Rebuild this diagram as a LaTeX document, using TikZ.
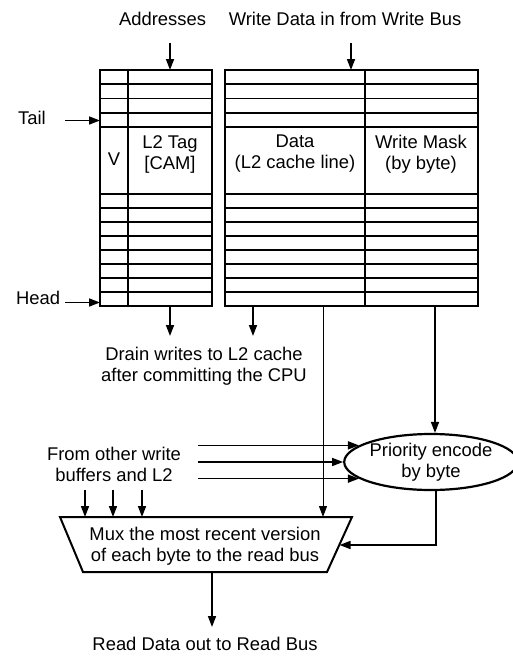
\documentclass[tikz,border=0pt]{standalone}
\usepackage{fontspec}
\setmainfont{Liberation Sans}
\usetikzlibrary{arrows.meta,shapes.geometric}
\begin{document}
\begin{tikzpicture}[x=1pt,y=-1pt,
  font=\fontsize{18.4}{21}\selectfont,
  arr/.style={line width=1.6pt,-{Triangle[length=11pt,width=8pt]}},
  thinarr/.style={line width=1pt,-{Triangle[length=11pt,width=8pt]}},
  frame/.style={line width=2.4pt},
  rowline/.style={line width=1.8pt},
  lbl/.style={align=center,inner sep=0pt}]
\useasboundingbox (0,0) rectangle (512,656);

% left block (V + L2 Tag)
\foreach \y in {84.25,98.5,112.75,127,194,208,222,236,250,264,278,292}
  \draw[rowline] (100,\y) -- (212,\y);
\draw[frame] (100,70) rectangle (212,306);
\draw[frame] (128,70) -- (128,306);
% right block (Data + Write Mask)
\foreach \y in {84.25,98.5,112.75,127,194,208,222,236,250,264,278,292}
  \draw[rowline] (225,\y) -- (478,\y);
\draw[frame] (225,70) rectangle (478,306);
\draw[frame] (365,70) -- (365,306);

% labels inside blocks
\node[lbl] (v) at (114,159) {V};
\node[lbl] (tag) at (170,154) {L2 Tag\\{[CAM]}};
\node[lbl] (data) at (295,154) {Data\\(L2 cache line)};
\node[lbl] (mask) at (421,154) {Write Mask\\(by byte)};

% top inputs
\node[lbl] (addr) at (162.5,19) {Addresses};
\node[lbl] (wdata) at (345,19) {Write Data in from Write Bus};
\coordinate (addrIn) at (170,43);
\coordinate (addrTop) at (170,70);
\coordinate (wdIn) at (351,43);
\coordinate (wdTop) at (351,70);
\draw[arr] (addrIn) -- (addrTop);
\draw[arr] (wdIn) -- (wdTop);

% tail / head
\node[lbl] (tail) at (32,118) {Tail};
\node[lbl] (head) at (38,298) {Head};
\coordinate (tailS) at (65,120.5);
\coordinate (tailE) at (100,120.5);
\coordinate (headS) at (65,302.5);
\coordinate (headE) at (100,302.5);
\draw[arr] (tailS) -- (tailE);
\draw[arr] (headS) -- (headE);

% drain outputs
\coordinate (tagOut) at (170,306);
\coordinate (tagEnd) at (170,336);
\coordinate (dOut) at (253,306);
\coordinate (dEnd) at (253,336);
\draw[arr] (tagOut) -- (tagEnd);
\draw[arr] (dOut) -- (dEnd);
\node[lbl] (drain) at (204,366) {Drain writes to L2 cache\\after committing the CPU};

% priority encoder
\node[draw,ellipse,line width=2.2pt,minimum width=158pt,minimum height=56pt,
      inner sep=0pt,align=center] (enc) at (431,462) {Priority encode\\by byte};
\coordinate (maskOut) at (435,306);
\draw[arr] (maskOut) -- (maskOut |- enc.north);

% other write buffers
\node[lbl] (other) at (114,464) {From other write\\buffers and L2};
\coordinate (oS) at (198,462);
\draw[arr] (enc.167 -| oS) -- (enc.167);
\draw[arr] (enc.west -| oS) -- (enc.west);
\draw[arr] (enc.193 -| oS) -- (enc.193);

% mux
\coordinate (mTL) at (60,517);
\coordinate (mTR) at (352,517);
\coordinate (mBR) at (327,572);
\coordinate (mBL) at (83,572);
\draw[line width=2pt] (mTL) -- (mTR) -- (mBR) -- (mBL) -- cycle;
\node[lbl] (mux) at (205,546) {Mux the most recent version\\of each byte to the read bus};

\foreach \x in {85,113,142}
  \draw[arr] (\x,490) -- (\x,517);

% data line down to mux
\coordinate (dataOut) at (323,306);
\draw[thinarr] (dataOut) -- (dataOut |- mTL);

% encoder to mux
\coordinate (encOut) at (436,490);
\coordinate (muxR) at (339.5,545);
\draw[arr] (encOut) |- (muxR);

% read out
\coordinate (muxOut) at (212,572);
\coordinate (readEnd) at (212,627);
\draw[arr] (muxOut) -- (readEnd);
\node[lbl] (read) at (205,644) {Read Data out to Read Bus};
\end{tikzpicture}
\end{document}
